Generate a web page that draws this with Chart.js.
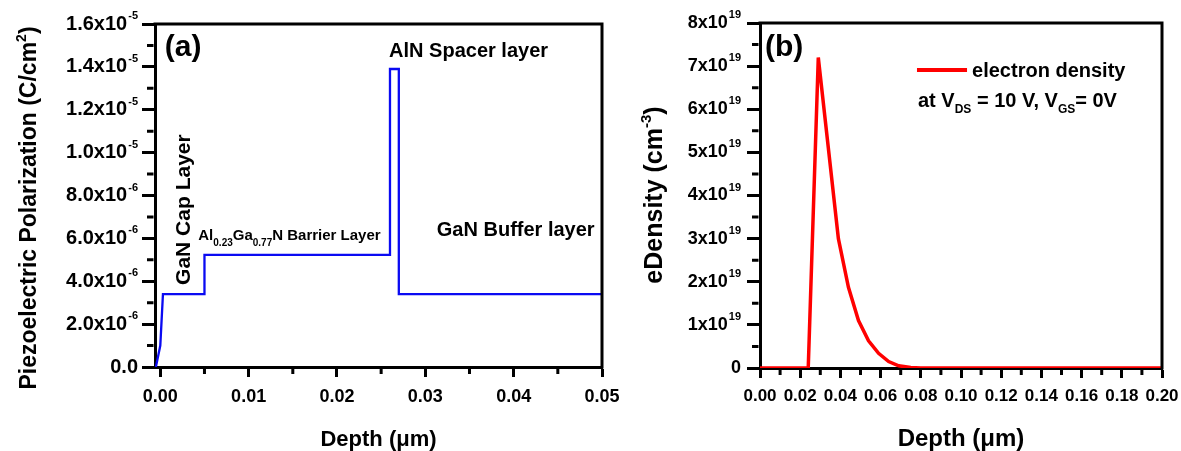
<!DOCTYPE html>
<html>
<head>
<meta charset="utf-8">
<script src="https://cdn.jsdelivr.net/npm/chart.js@4.4.1/dist/chart.umd.min.js"></script>
<style>
    html, body { margin: 0; padding: 0; background: #fff; }
    #wrap { position: relative; width: 1181px; height: 451px; overflow: hidden; }
    .panel { position: absolute; top: 0; }
</style>
</head>
<body>
<div id="wrap">
    <div class="panel" style="left:0"><canvas id="chartA" width="620" height="451"></canvas></div>
    <div class="panel" style="left:620px"><canvas id="chartB" width="561" height="451"></canvas></div>
</div>
<script>
const FONT = '"Liberation Sans", Arial, Helvetica, sans-serif';

// (a) piezoelectric polarization vs depth (step profile)
const depthA = [-0.0005, 0.0, 0.0003, 0.005, 0.005, 0.026, 0.026, 0.027, 0.027, 0.05];
const polarA = [0, 1.0e-6, 3.4e-6, 3.4e-6, 5.23e-6, 5.23e-6, 1.39e-5, 1.39e-5, 3.4e-6, 3.4e-6];
const xTicksA = [0, 0.01, 0.02, 0.03, 0.04, 0.05];
const xMinorA = [0.005, 0.015, 0.025, 0.035, 0.045];
const yTicksA = [0, 2e-6, 4e-6, 6e-6, 8e-6, 1e-5, 1.2e-5, 1.4e-5, 1.6e-5];
const yMinorA = [1e-6, 3e-6, 5e-6, 7e-6, 9e-6, 1.1e-5, 1.3e-5, 1.5e-5];
const yLabelsA = ['0.0', '2.0x10^-6', '4.0x10^-6', '6.0x10^-6', '8.0x10^-6',
                  '1.0x10^-5', '1.2x10^-5', '1.4x10^-5', '1.6x10^-5'];

// (b) electron density vs depth
const depthB = [0, 0.024, 0.029, 0.034, 0.039, 0.044, 0.049, 0.054, 0.059, 0.064, 0.069, 0.075, 0.08, 0.2];
const densB = [0, 0, 7.2e19, 5.1e19, 3.0e19, 1.87e19, 1.1e19, 0.63e19, 0.34e19, 0.15e19, 0.05e19, 0.01e19, 0, 0];
const xTicksB = [0, 0.02, 0.04, 0.06, 0.08, 0.10, 0.12, 0.14, 0.16, 0.18, 0.20];
const xMinorB = [0.01, 0.03, 0.05, 0.07, 0.09, 0.11, 0.13, 0.15, 0.17, 0.19];
const yTicksB = [0, 1e19, 2e19, 3e19, 4e19, 5e19, 6e19, 7e19, 8e19];
const yMinorB = [0.5e19, 1.5e19, 2.5e19, 3.5e19, 4.5e19, 5.5e19, 6.5e19, 7.5e19];
const yLabelsB = ['0', '1x10^19', '2x10^19', '3x10^19', '4x10^19', '5x10^19', '6x10^19', '7x10^19', '8x10^19'];

function bold(size) {
    return `bold ${size}px ${FONT}`;
}

// number like "1.6x10^-5" drawn with a raised exponent, right aligned
function drawSci(ctx, label, xRight, yMid, mainSize, expSize, rise) {
    const [base, exp] = label.split('^');
    ctx.textBaseline = 'middle';
    ctx.textAlign = 'left';
    ctx.fillStyle = '#000';
    ctx.font = bold(expSize);
    const we = exp ? ctx.measureText(exp).width + 1 : 0;
    ctx.font = bold(mainSize);
    const wb = ctx.measureText(base).width;
    const x0 = xRight - we - wb;
    ctx.fillText(base, x0, yMid);
    if (exp) {
        ctx.font = bold(expSize);
        ctx.fillText(exp, x0 + wb + 1, yMid - rise);
    }
}

// runs of text with sub/superscripts
function runsWidth(ctx, runs) {
    let w = 0;
    runs.forEach(r => {
        ctx.font = bold(r.size);
        w += ctx.measureText(r.text).width;
    });
    return w;
}

function drawRuns(ctx, runs, x, y, angle) {
    ctx.save();
    ctx.translate(x, y);
    if (angle) ctx.rotate(angle);
    ctx.textBaseline = 'alphabetic';
    ctx.textAlign = 'left';
    ctx.fillStyle = '#000';
    let cx = 0;
    runs.forEach(r => {
        ctx.font = bold(r.size);
        ctx.fillText(r.text, cx, r.dy || 0);
        cx += ctx.measureText(r.text).width;
    });
    ctx.restore();
}

function panelPlugin(cfg) {
    return {
        id: 'panel' + cfg.id,
        afterDraw(chart) {
            const { ctx, chartArea: a } = chart;
            const x = chart.scales.x;
            const y = chart.scales.y;
            ctx.save();

            // closing frame (top and right)
            ctx.strokeStyle = '#000';
            ctx.lineWidth = 3;
            ctx.lineCap = 'square';
            ctx.beginPath();
            ctx.moveTo(a.left, a.top);
            ctx.lineTo(a.right, a.top);
            ctx.lineTo(a.right, a.bottom);
            ctx.stroke();

            // minor ticks
            ctx.lineCap = 'butt';
            ctx.beginPath();
            cfg.xMinor.forEach(v => {
                const p = x.getPixelForValue(v);
                ctx.moveTo(p, a.bottom + 1.5);
                ctx.lineTo(p, a.bottom + 7);
            });
            cfg.yMinor.forEach(v => {
                const p = y.getPixelForValue(v);
                ctx.moveTo(a.left - 1.5, p);
                ctx.lineTo(a.left - 8, p);
            });
            ctx.stroke();

            // y tick labels with exponents
            cfg.yTicks.forEach((v, i) => {
                drawSci(ctx, cfg.yLabels[i], a.left - cfg.labelGap, y.getPixelForValue(v),
                        cfg.ySize, cfg.expSize, cfg.expRise);
            });

            // y axis title
            const w = runsWidth(ctx, cfg.yTitle);
            drawRuns(ctx, cfg.yTitle, cfg.yTitleX, cfg.yTitleMid + w / 2, -Math.PI / 2);

            cfg.extra(ctx, x, y);
            ctx.restore();
        }
    };
}

function makeOptions(o) {
    return {
        responsive: false,
        animation: false,
        devicePixelRatio: 1,
        layout: { padding: { left: 0, right: o.padRight, top: o.padTop, bottom: 0 } },
        plugins: { legend: { display: false }, tooltip: { enabled: false } },
        scales: {
            x: {
                type: 'linear',
                min: o.xMin,
                max: o.xMax,
                afterBuildTicks: s => { s.ticks = o.xTicks.map(v => ({ value: v })); },
                afterFit: s => {
                    s.height = o.xHeight;
                    // keep plot edges fixed, end labels may overhang
                    s.paddingLeft = 0;
                    s.paddingRight = 0;
                },
                ticks: {
                    callback: v => v.toFixed(2),
                    font: { family: FONT, size: o.xTickSize, weight: 'bold' },
                    color: '#000',
                    padding: o.xTickPad,
                    maxRotation: 0,
                    autoSkip: false
                },
                grid: { drawOnChartArea: false, tickLength: 10, tickWidth: 3, tickColor: '#000' },
                border: { width: 3, color: '#000' },
                title: {
                    display: true,
                    text: 'Depth (μm)',
                    color: '#000',
                    font: { family: FONT, size: o.xTitleSize, weight: 'bold', lineHeight: 1 },
                    padding: { top: 0, bottom: o.xTitlePad }
                }
            },
            y: {
                type: 'linear',
                min: o.yMin,
                max: o.yMax,
                afterBuildTicks: s => { s.ticks = o.yTicks.map(v => ({ value: v })); },
                afterFit: s => {
                    s.width = o.yWidth;
                    s.paddingTop = 0;
                    s.paddingBottom = 0;
                },
                ticks: { display: false },
                grid: { drawOnChartArea: false, tickLength: 13, tickWidth: 3, tickColor: '#000' },
                border: { width: 3, color: '#000' }
            }
        }
    };
}

// ---- panel (a)
new Chart(document.getElementById('chartA'), {
    type: 'line',
    data: {
        datasets: [{
            data: depthA.map((d, i) => ({ x: d, y: polarA[i] })),
            borderColor: '#0a0af2',
            borderWidth: 2.3,
            pointRadius: 0,
            tension: 0,
            fill: false
        }]
    },
    options: makeOptions({
        padRight: 18, padTop: 24, xMin: -0.0006, xMax: 0.05, xTicks: xTicksA, xHeight: 84,
        xTickSize: 18, xTickPad: 9, xTitleSize: 22, xTitlePad: 0,
        yMin: 0, yMax: 1.6e-5, yTicks: yTicksA, yWidth: 155
    }),
    plugins: [panelPlugin({
        id: 'A', xMinor: xMinorA, yMinor: yMinorA, yTicks: yTicksA, yLabels: yLabelsA,
        labelGap: 17, ySize: 20, expSize: 11, expRise: 8,
        yTitle: [
            { text: 'Piezoelectric Polarization (C/cm', size: 23 },
            { text: '2', size: 14, dy: -10 },
            { text: ')', size: 23 }
        ],
        yTitleX: 36, yTitleMid: 208,
        extra(ctx, x, y) {
            drawRuns(ctx, [{ text: '(a)', size: 30 }], x.getPixelForValue(0.0005), y.getPixelForValue(1.45e-5));
            drawRuns(ctx, [{ text: 'GaN Cap Layer', size: 21 }],
                     x.getPixelForValue(0.0034), y.getPixelForValue(3.83e-6), -Math.PI / 2);
            drawRuns(ctx, [
                { text: 'Al', size: 15 },
                { text: '0.23', size: 10, dy: 6 },
                { text: 'Ga', size: 15 },
                { text: '0.77', size: 10, dy: 6 },
                { text: 'N Barrier Layer', size: 15 }
            ], x.getPixelForValue(0.0043), y.getPixelForValue(5.92e-6));
            drawRuns(ctx, [{ text: 'AlN Spacer layer', size: 20 }],
                     x.getPixelForValue(0.0259), y.getPixelForValue(1.446e-5));
            drawRuns(ctx, [{ text: 'GaN Buffer layer', size: 20 }],
                     x.getPixelForValue(0.0313), y.getPixelForValue(6.09e-6));
        }
    })]
});

// ---- panel (b)
new Chart(document.getElementById('chartB'), {
    type: 'line',
    data: {
        datasets: [{
            label: 'electron density',
            data: depthB.map((d, i) => ({ x: d, y: densB[i] })),
            borderColor: '#ff0000',
            borderWidth: 3.5,
            pointRadius: 0,
            tension: 0,
            fill: false
        }]
    },
    options: makeOptions({
        padRight: 19, padTop: 23, xMin: 0, xMax: 0.2, xTicks: xTicksB, xHeight: 83,
        xTickSize: 17, xTickPad: 8, xTitleSize: 24, xTitlePad: 0,
        yMin: 0, yMax: 8e19, yTicks: yTicksB, yWidth: 140
    }),
    plugins: [panelPlugin({
        id: 'B', xMinor: xMinorB, yMinor: yMinorB, yTicks: yTicksB, yLabels: yLabelsB,
        labelGap: 19, ySize: 18, expSize: 11, expRise: 8,
        yTitle: [
            { text: 'eDensity (cm', size: 25 },
            { text: '-3', size: 15, dy: -11 },
            { text: ')', size: 25 }
        ],
        yTitleX: 42, yTitleMid: 195,
        extra(ctx, x, y) {
            drawRuns(ctx, [{ text: '(b)', size: 30 }], x.getPixelForValue(0.0025), y.getPixelForValue(7.23e19));
            // legend swatch + text
            ctx.strokeStyle = '#ff0000';
            ctx.lineWidth = 4;
            ctx.beginPath();
            ctx.moveTo(x.getPixelForValue(0.0781), y.getPixelForValue(6.91e19));
            ctx.lineTo(x.getPixelForValue(0.103), y.getPixelForValue(6.91e19));
            ctx.stroke();
            drawRuns(ctx, [{ text: 'electron density', size: 20 }],
                     x.getPixelForValue(0.1055), y.getPixelForValue(6.75e19));
            drawRuns(ctx, [
                { text: 'at V', size: 20 },
                { text: 'DS', size: 12, dy: 6 },
                { text: ' = 10 V, V', size: 20 },
                { text: 'GS', size: 12, dy: 6 },
                { text: '= 0V', size: 20 }
            ], x.getPixelForValue(0.0786), y.getPixelForValue(6.05e19));
        }
    })]
});
</script>
</body>
</html>
